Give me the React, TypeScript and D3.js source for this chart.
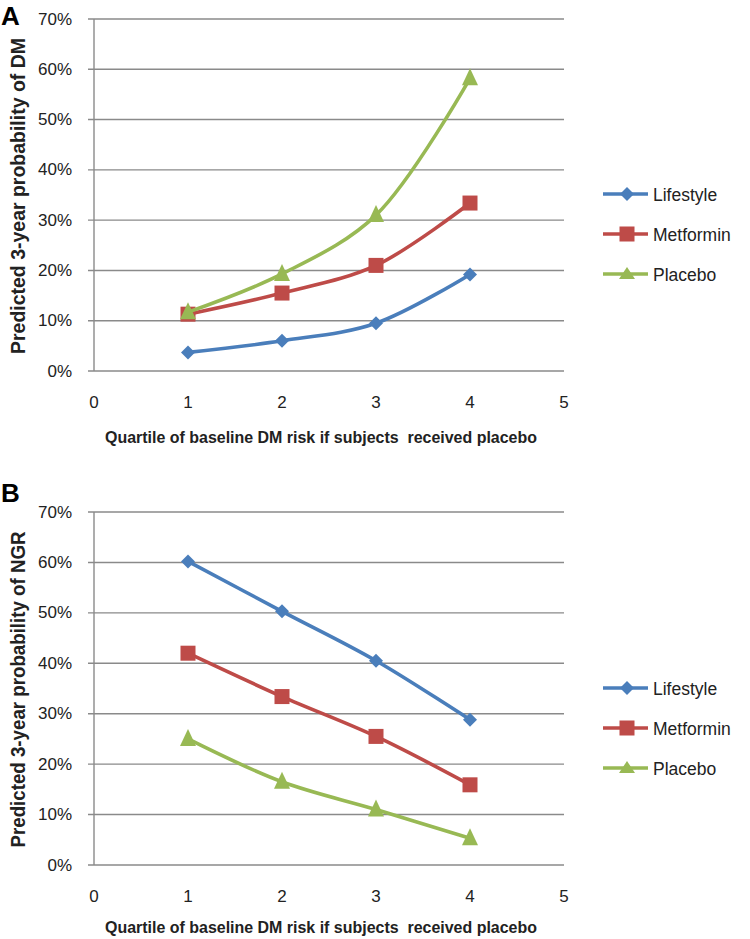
import React from "react";
import * as d3 from "d3";

const quartiles = [1, 2, 3, 4];
const seriesNames = ["Lifestyle", "Metformin", "Placebo"];
const seriesColors = ["#4A7EBB", "#BE4B48", "#98B954"];
const markerShapes = ["diamond", "square", "triangle"];

const dmLifestyle = [3.7, 6.0, 9.5, 19.2];
const dmMetformin = [11.3, 15.5, 21.0, 33.4];
const dmPlacebo = [11.7, 19.3, 31.0, 58.2];

const ngrLifestyle = [60.2, 50.3, 40.5, 28.8];
const ngrMetformin = [42.0, 33.4, 25.5, 15.9];
const ngrPlacebo = [25.0, 16.5, 11.0, 5.3];

const xTicks = [0, 1, 2, 3, 4, 5];
const yTicks = [0, 10, 20, 30, 40, 50, 60, 70];

const panels = [
  { label: "A", yTitle: "Predicted 3-year probability of DM", series: [dmLifestyle, dmMetformin, dmPlacebo], top: 19, bottom: 371, legendY: 194, labelY: 25, xTitleY: 443 },
  { label: "B", yTitle: "Predicted 3-year probability of NGR", series: [ngrLifestyle, ngrMetformin, ngrPlacebo], top: 512, bottom: 865, legendY: 688, labelY: 502, xTitleY: 933 },
];
const xTitle = "Quartile of baseline DM risk if subjects\u00A0 received placebo";

const FONT = "'Liberation Sans', Arial, sans-serif";

function Marker({ shape, x, y, color, legend }: { shape: string; x: number; y: number; color: string; legend?: boolean }) {
  if (shape === "diamond") {
    const s = 7;
    return <path d={`M${x},${y - s}L${x + s},${y}L${x},${y + s}L${x - s},${y}Z`} fill={color} />;
  }
  if (shape === "square") {
    const s = 7.5;
    return <rect x={x - s} y={y - s} width={2 * s} height={2 * s} fill={color} />;
  }
  const w = 8;
  const t = legend ? 7 : 10;
  const b = legend ? 5 : 7;
  return <path d={`M${x},${y - t}L${x + w},${y + b}L${x - w},${y + b}Z`} fill={color} />;
}

function Panel({ p }: { p: (typeof panels)[number] }) {
  const x = d3.scaleLinear().domain([0, 5]).range([94, 564]);
  const y = d3.scaleLinear().domain([0, 70]).range([p.bottom, p.top]);
  const line = d3
    .line<number>()
    .x((_, i) => x(quartiles[i]))
    .y((d) => y(d))
    .curve(d3.curveCatmullRom.alpha(0.5));
  const midY = (p.top + p.bottom) / 2 + 1;
  return (
    <g>
      <text x={1} y={p.labelY} fontFamily={FONT} fontWeight="bold" fontSize={26} fill="#000">
        {p.label}
      </text>
      {yTicks.map((t) => (
        <g key={t}>
          <line x1={88} x2={x(5)} y1={y(t)} y2={y(t)} stroke="#8A8A8A" strokeWidth={1.4} />
          <text x={72} y={y(t)} textAnchor="end" dominantBaseline="central" fontFamily={FONT} fontSize={17} fill="#222">
            {t}%
          </text>
        </g>
      ))}
      <line x1={94} x2={94} y1={p.top} y2={p.bottom} stroke="#8A8A8A" strokeWidth={1.4} />
      {xTicks.map((t) => (
        <text key={t} x={x(t)} y={p.bottom + 31} textAnchor="middle" dominantBaseline="central" fontFamily={FONT} fontSize={17} fill="#222">
          {t}
        </text>
      ))}
      <text x={321} y={p.xTitleY} textAnchor="middle" fontFamily={FONT} fontWeight="bold" fontSize={16.5} fill="#222" textLength={432} lengthAdjust="spacingAndGlyphs">
        {xTitle}
      </text>
      <text transform={`translate(25,${midY}) rotate(-90)`} textAnchor="middle" fontFamily={FONT} fontWeight="bold" fontSize={20} fill="#222" textLength={316} lengthAdjust="spacingAndGlyphs">
        {p.yTitle}
      </text>
      {p.series.map((vals, si) => (
        <g key={si}>
          <path d={line(vals) || ""} fill="none" stroke={seriesColors[si]} strokeWidth={3.6} strokeLinejoin="round" />
          {vals.map((v, i) => (
            <Marker key={i} shape={markerShapes[si]} x={x(quartiles[i])} y={y(v)} color={seriesColors[si]} />
          ))}
        </g>
      ))}
      {seriesNames.map((n, si) => {
        const ly = p.legendY + si * 40;
        return (
          <g key={n}>
            <line x1={603} x2={648} y1={ly} y2={ly} stroke={seriesColors[si]} strokeWidth={3.6} />
            <Marker shape={markerShapes[si]} x={627} y={ly} color={seriesColors[si]} legend />
            <text x={653} y={ly + 1} dominantBaseline="central" fontFamily={FONT} fontSize={17.5} fill="#222">
              {n}
            </text>
          </g>
        );
      })}
    </g>
  );
}

export default function App() {
  return (
    <svg width={750} height={939} style={{ position: "absolute", left: 0, top: 0, background: "#fff" }}>
      <rect width={750} height={939} fill="#fff" />
      {panels.map((p) => (
        <Panel key={p.label} p={p} />
      ))}
    </svg>
  );
}
